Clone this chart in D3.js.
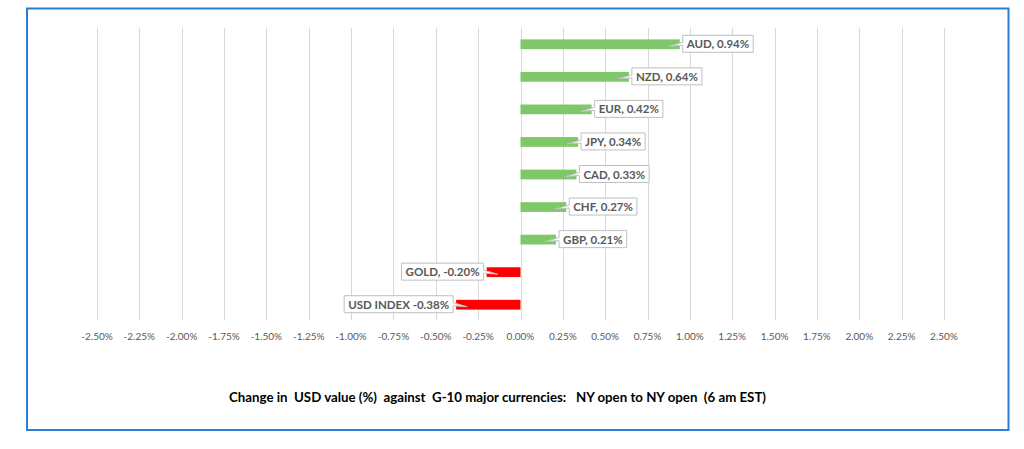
<!DOCTYPE html>
<html>
<head>
<meta charset="utf-8">
<script src="https://cdn.jsdelivr.net/npm/d3@7"></script>
<style>
body { margin:0; background:#fff; }
text { font-family: Lato, "Open Sans", sans-serif; }
</style>
</head>
<body>
<svg id="chart"></svg>
<script>
var categories = ["AUD","NZD","EUR","JPY","CAD","CHF","GBP","GOLD","USD INDEX"]
var values = [0.94,0.64,0.42,0.34,0.33,0.27,0.21,-0.20,-0.38]
var labels = ["AUD, 0.94%","NZD, 0.64%","EUR, 0.42%","JPY, 0.34%","CAD, 0.33%","CHF, 0.27%","GBP, 0.21%","GOLD, -0.20%","USD INDEX -0.38%"]
var ticks = [-2.5,-2.25,-2,-1.75,-1.5,-1.25,-1,-0.75,-0.5,-0.25,0,0.25,0.5,0.75,1,1.25,1.5,1.75,2,2.25,2.5]
var title = "Change in  USD value (%)  against  G-10 major currencies:   NY open to NY open  (6 am EST)"

var width = 1024
var height = 449

var svg = d3.select("#chart")
    .attr("width",width)
    .attr("height",height)

// outer frame
svg.append("rect")
    .attr("x",27)
    .attr("y",8.5)
    .attr("width",981.5)
    .attr("height",421.5)
    .attr("fill","none")
    .attr("stroke","#2b7fd2")
    .attr("stroke-width",2)

var xScale = d3.scaleLinear()
    .domain([-2.5,2.5])
    .range([97,944])

var yScale = d3.scaleBand()
    .domain(categories)
    .range([28,321])
    .paddingInner(0.7)
    .paddingOuter(0.35)

// gridlines
svg.append("g")
    .selectAll("line")
    .data(ticks)
    .enter()
    .append("line")
    .attr("x1",function(d){return Math.round(xScale(d))+0.5})
    .attr("x2",function(d){return Math.round(xScale(d))+0.5})
    .attr("y1",28)
    .attr("y2",320)
    .attr("stroke","#d9d9d9")
    .attr("stroke-width",1)

// tick labels
svg.append("g")
    .selectAll("text")
    .data(ticks)
    .enter()
    .append("text")
    .attr("x",function(d){return xScale(d)})
    .attr("y",340)
    .attr("text-anchor","middle")
    .attr("font-size",10)
    .attr("fill","#595959")
    .text(function(d){return d.toFixed(2)+"%"})

// bars
svg.append("g")
    .selectAll("rect")
    .data(values)
    .enter()
    .append("rect")
    .attr("x",function(d){return xScale(Math.min(0,d))})
    .attr("y",function(d,i){return yScale(categories[i])})
    .attr("width",function(d){return Math.abs(xScale(d)-xScale(0))})
    .attr("height",yScale.bandwidth())
    .attr("fill",function(d){return d<0 ? "#ff0000" : "#7ec86a"})

// callout labels
var callouts = svg.append("g")
values.forEach(function(v,i)
{
    var cy = yScale(categories[i]) + yScale.bandwidth()/2
    var end = xScale(v)
    var sign = v<0 ? -1 : 1
    var g = callouts.append("g")
    var t = g.append("text")
        .attr("font-size",11.5)
        .attr("font-weight","bold")
        .attr("fill","#595959")
        .text(labels[i])
    var w = t.node().getComputedTextLength() + 8
    var h = 17
    var x0 = sign>0 ? end + 3 : end - 3 - w
    var y0 = cy - h/2 - 0.5
    var tip = end - sign*11
    var p
    if(sign>0)
    {
        p = "M"+x0+","+y0+" H"+(x0+w)+" V"+(y0+h)+" H"+x0+" V"+(cy+1)+" L"+tip+","+(cy+2)+" L"+x0+","+(cy-2)+" Z"
    }
    else
    {
        p = "M"+x0+","+y0+" H"+(x0+w)+" V"+(cy-2)+" L"+tip+","+(cy+2)+" L"+(x0+w)+","+(cy+1)+" V"+(y0+h)+" H"+x0+" Z"
    }
    g.insert("path","text")
        .attr("d",p)
        .attr("fill","#fff")
        .attr("stroke","#bfbfbf")
        .attr("stroke-width",1)
    t.attr("x",x0+4).attr("y",cy+4)
})

// title
svg.append("text")
    .attr("x",497.5)
    .attr("y",402)
    .attr("text-anchor","middle")
    .attr("font-size",13.5)
    .attr("font-weight","bold")
    .attr("fill","#000")
    .attr("textLength",537)
    .attr("lengthAdjust","spacingAndGlyphs")
    .style("white-space","pre")
    .text(title)
</script>
</body>
</html>
